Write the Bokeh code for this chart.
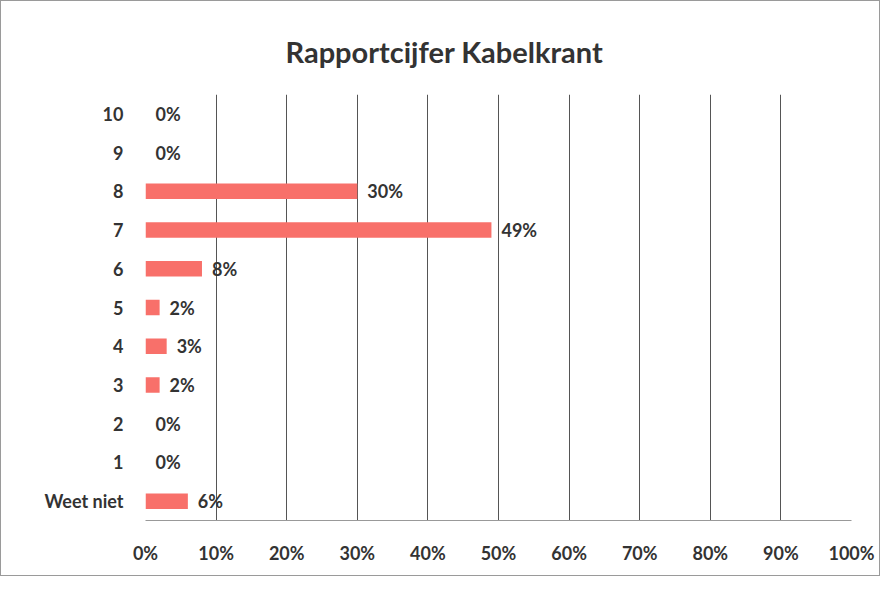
from bokeh.plotting import figure
from bokeh.models import ColumnDataSource, FactorRange, PrintfTickFormatter, FixedTicker
from bokeh.core.properties import value
from bokeh.embed import file_html
from bokeh.resources import INLINE

categories = ["Weet niet", "1", "2", "3", "4", "5", "6", "7", "8", "9", "10"]
percentages = [6, 0, 0, 2, 3, 2, 8, 49, 30, 0, 0]
x_ticks = [0, 10, 20, 30, 40, 50, 60, 70, 80, 90, 100]
title_text = "Rapportcijfer Kabelkrant"

labels = [f"{v}%" for v in percentages]
src = ColumnDataSource(dict(cat=categories, val=percentages, lab=labels))

FONT = "Lato"

p = figure(width=880, height=576, output_backend="svg", toolbar_location=None,
           y_range=FactorRange(factors=categories), x_range=(0, 100),
           title=title_text, min_border_left=144, min_border_right=30,
           min_border_top=93, min_border_bottom=57)
p.styles = {"border": "1px solid #9a9a9a"}

p.title.align = "left"
p.title.offset = 140
p.title.text_font = FONT
p.title.text_font_size = "29px"
p.title.text_font_style = "bold"
p.title.text_color = "#333333"
p.title.standoff = 52

p.hbar(y="cat", right="val", left=0, height=0.4, source=src,
       fill_color="#F8706A", line_color=None)

p.text(x="val", y="cat", text="lab", source=src, x_offset=10,
       text_baseline="middle", text_align="left",
       text_font=value(FONT), text_font_style="bold",
       text_font_size="18px", text_color="#333333")

p.xaxis.ticker = FixedTicker(ticks=x_ticks)
p.xaxis.formatter = PrintfTickFormatter(format="%d%%")
p.xaxis.major_label_standoff = 15
p.xaxis.major_tick_line_color = None
p.xaxis.minor_tick_line_color = None
p.xaxis.axis_line_color = "#999999"
p.xaxis.major_label_text_font = FONT
p.xaxis.major_label_text_font_style = "bold"
p.xaxis.major_label_text_font_size = "18px"
p.xaxis.major_label_text_color = "#333333"

p.yaxis.axis_line_color = None
p.yaxis.major_tick_line_color = None
p.yaxis.minor_tick_line_color = None
p.yaxis.major_label_standoff = 16
p.yaxis.major_label_text_font = FONT
p.yaxis.major_label_text_font_style = "bold"
p.yaxis.major_label_text_font_size = "18px"
p.yaxis.major_label_text_color = "#333333"

p.xgrid.ticker = FixedTicker(ticks=x_ticks)
p.xgrid.grid_line_color = "#555555"
p.xgrid.grid_line_width = 1
p.ygrid.grid_line_color = None
p.outline_line_color = None

open("out.html", "w").write(file_html(p, INLINE))
